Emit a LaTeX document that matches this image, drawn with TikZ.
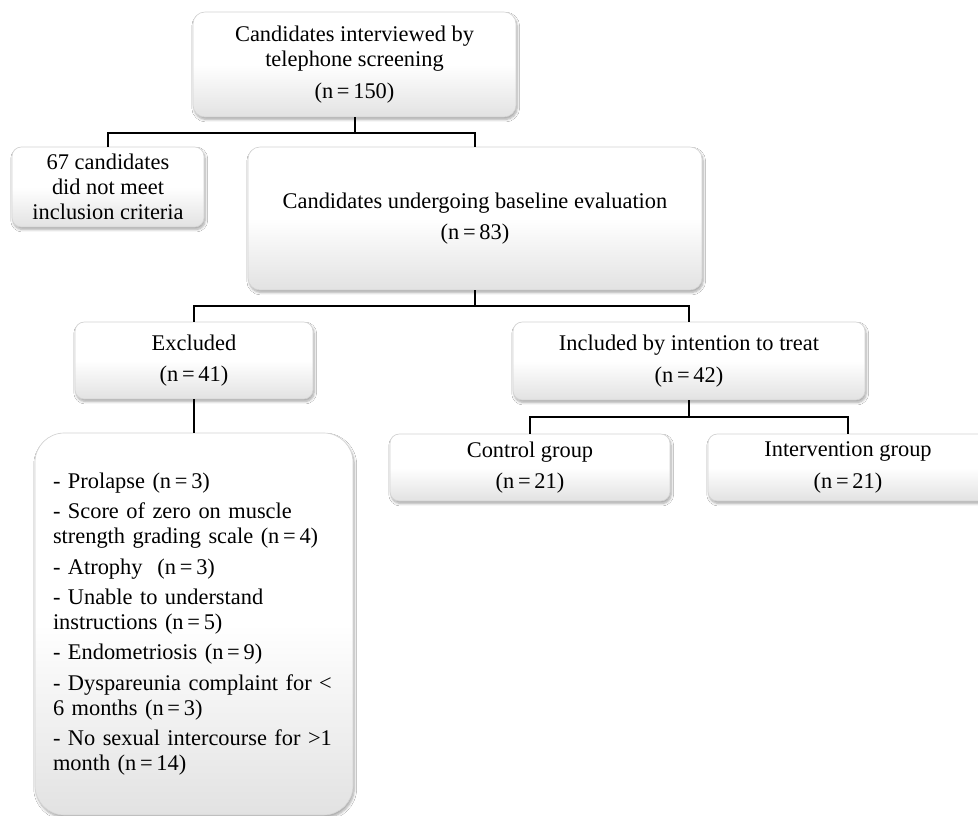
\documentclass[tikz,border=0pt]{standalone}
\usepackage{fontspec}
\setmainfont{Liberation Serif}
\usepackage{tikz}
\usetikzlibrary{shadows.blur}
\definecolor{fcInk}{HTML}{000000}
\definecolor{fcEdge}{HTML}{D4D4D4}
\definecolor{fcTop}{HTML}{FFFFFF}
\definecolor{fcBottom}{HTML}{E2E2E2}
\tikzset{
  fcbox/.style={
    draw=fcEdge,
    line width=0.5pt,
    top color=fcTop,
    bottom color=fcBottom,
    middle color=fcTop,
    rounded corners=7pt,
    align=center,
    inner sep=0pt,
    blur shadow={shadow xshift=0.9pt,shadow yshift=-1.9pt,
      shadow blur steps=6,shadow opacity=35}
  },
  fclink/.style={draw=fcInk,line width=1.5pt}
}

\begin{document}
\begin{tikzpicture}[x=0.75pt,y=-0.75pt,font=\fontsize{16.8}{18.75}\selectfont]
  \path[use as bounding box,fill=white] (0,0) rectangle (978,816);

  \node[fcbox,rounded corners=9pt,minimum width=242.25pt,minimum height=78.75pt]
    (screen) at (354.5,64.5) {
    Candidates interviewed by\\
    telephone screening\\[5pt]
    (n\,=\,150)
  };
  \node[fcbox,minimum width=144pt,minimum height=60pt]
    (unmet) at (108,187) {
    67 candidates\\
    did not meet\\
    inclusion criteria
  };
  \node[fcbox,rounded corners=9pt,minimum width=340.5pt,minimum height=107.25pt]
    (baseline) at (475,218.5) {
    Candidates\ undergoing\ baseline\ evaluation\\[5pt]
    (n\,=\,83)
  };

  \node[fcbox,minimum width=178.5pt,minimum height=57.75pt]
    (excluded) at (194,360.5) {
    Excluded\\[5pt]
    (n\,=\,41)
  };
  \node[fcbox,minimum width=264pt,minimum height=58.5pt]
    (included) at (689,361) {
    Included by intention to treat\\[5pt]
    (n\,=\,42)
  };

  \node[fcbox,rounded corners=22pt,align=left,text width=211.5pt,
    inner xsep=13.5pt,minimum height=286.5pt]
    (reasons) at (194,624) {
    - Prolapse (n\,=\,3)\\[4pt]
    - Score of zero on muscle\\
    strength grading scale (n\,=\,4)\\[4pt]
    - Atrophy\ \ (n\,=\,3)\\[4pt]
    - Unable to understand\\
    instructions (n\,=\,5)\\[4pt]
    - Endometriosis (n\,=\,9)\\[4pt]
    - Dyspareunia complaint for <\\
    6 months (n\,=\,3)\\[4pt]
    - No sexual intercourse for >1\\
    month (n\,=\,14)
  };

  \node[fcbox,minimum width=210pt,minimum height=50.25pt]
    (control) at (530,467.5) {
    Control group\\[5pt]
    (n\,=\,21)
  };
  \node[fcbox,minimum width=210pt,minimum height=50.25pt]
    (intervention) at (848,467.5) {
    Intervention group\\[5pt]
    (n\,=\,21)
  };

  % branch points
  \coordinate (split1) at (354.5,133);
  \coordinate (split2) at (475,306);
  \coordinate (split3) at (689,417);

  \draw[fclink] (screen.south) -- (split1);
  \draw[fclink] (unmet.north) |- (split1) -| (baseline.north);
  \draw[fclink] (baseline.south) -- (split2);
  \draw[fclink] (excluded.north) |- (split2) -| (included.north);
  \draw[fclink] (excluded.south) -- (reasons.north);
  \draw[fclink] (included.south) -- (split3);
  \draw[fclink] (control.north) |- (split3) -| (intervention.north);
\end{tikzpicture}
\end{document}
